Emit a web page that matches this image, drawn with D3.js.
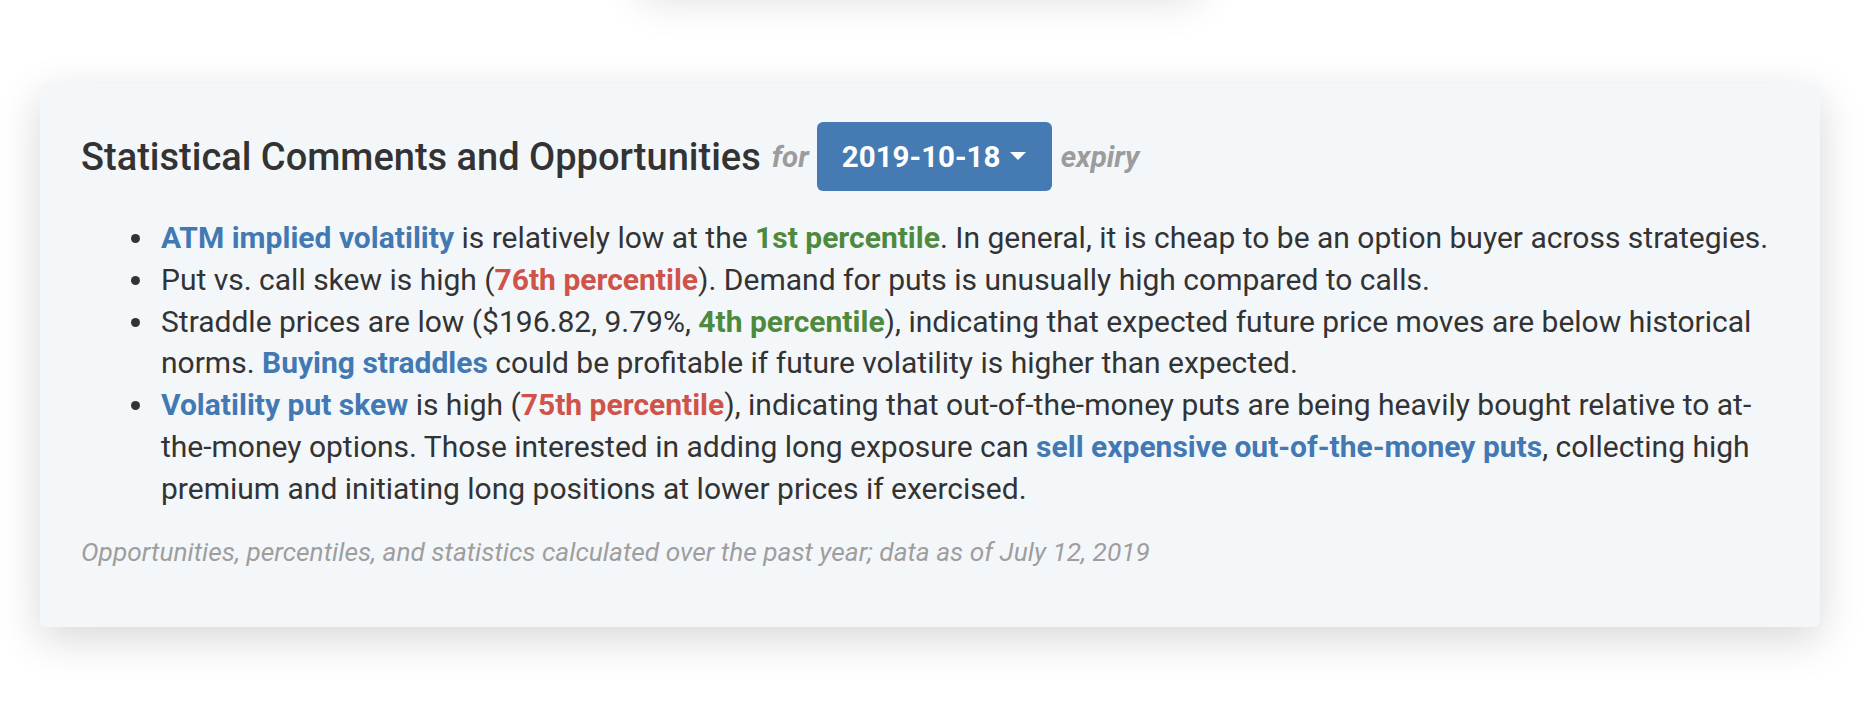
<!DOCTYPE html>
<html>
<head>
<meta charset="utf-8">
<script src="https://cdn.jsdelivr.net/npm/d3@7"></script>
<style>
  html, body { margin:0; padding:0; background:#ffffff; width:1872px; height:710px; overflow:hidden; font-family: Roboto, "Noto Sans", sans-serif; }
  #ghost { position:absolute; left:640px; top:-300px; width:560px; height:292px; background:#fff; box-shadow:0 8px 40px rgba(0,0,0,0.13); border-radius:6px; }
  #card { position:absolute; left:40px; top:84px; width:1780px; height:543px; background:#f4f7fa; border-radius:6px; box-shadow:0 12px 44px rgba(0,0,0,0.16); }
  .hdr { position:absolute; left:41px; top:38px; height:69px; display:flex; align-items:center; white-space:nowrap; }
  .title { font-size:38px; font-weight:500; color:#333; }
  .sub { font-size:29.5px; font-weight:700; font-style:italic; color:#9c9c9c; }
  .btn { background:#457ab3; color:#fff; border-radius:6px; height:69px; width:235px; display:flex; align-items:center; justify-content:center; font-size:29.5px; font-weight:700; box-sizing:border-box; }
  .caret { display:inline-block; width:0; height:0; border-left:8px solid transparent; border-right:8px solid transparent; border-top:8px solid #fff; margin-left:10px; position:relative; top:-1px; }
  .list { position:absolute; left:41px; top:133px; }
  .line { position:relative; height:41.8px; line-height:41.8px; padding-left:80px; white-space:nowrap; font-size:30px; color:#333; }
  .dot { position:absolute; left:50px; top:17px; width:9px; height:9px; border-radius:50%; background:#333; }
  .b { font-weight:700; }
  .blue { color:#4379b3; } .green { color:#4e8a3e; } .red { color:#d0534a; }
  .foot { position:absolute; left:41px; top:453px; font-size:26.3px; font-style:italic; color:#9e9e9e; white-space:nowrap; line-height:30px; }
</style>
</head>
<body>
<div id="ghost"></div>
<div id="card"></div>
<script>
// Text content as segments: [text, style]
const titleText = "Statistical Comments and Opportunities";
const forText = "for";
const expiryDate = "2019-10-18";
const expiryText = "expiry";
const bullet1 = [[["ATM implied volatility","blue"],[" is relatively low at the ",""],["1st percentile","green"],[". In general, it is cheap to be an option buyer across strategies.",""]]];
const bullet2 = [[["Put vs. call skew is high (",""],["76th percentile","red"],["). Demand for puts is unusually high compared to calls.",""]]];
const bullet3 = [
  [["Straddle prices are low ($196.82, 9.79%, ",""],["4th percentile","green"],["), indicating that expected future price moves are below historical",""]],
  [["norms. ",""],["Buying straddles","blue"],[" could be profitable if future volatility is higher than expected.",""]]
];
const bullet4 = [
  [["Volatility put skew","blue"],[" is high (",""],["75th percentile","red"],["), indicating that out-of-the-money puts are being heavily bought relative to at-",""]],
  [["the-money options. Those interested in adding long exposure can ",""],["sell expensive out-of-the-money puts","blue"],[", collecting high",""]],
  [["premium and initiating long positions at lower prices if exercised.",""]]
];
const bullets = [bullet1, bullet2, bullet3, bullet4];
const footnote = "Opportunities, percentiles, and statistics calculated over the past year; data as of July 12, 2019";

const card = d3.select("#card");
const hdr = card.append("div").attr("class","hdr");
hdr.append("span").attr("class","title").text(titleText);
hdr.append("span").attr("class","sub").style("margin-left","11px").style("margin-right","8px").text(forText);
const btn = hdr.append("div").attr("class","btn");
btn.append("span").text(expiryDate);
btn.append("span").attr("class","caret");
hdr.append("span").attr("class","sub").style("margin-left","9px").text(expiryText);

const list = card.append("div").attr("class","list");
bullets.forEach(b => {
  b.forEach((ln, i) => {
    const row = list.append("div").attr("class","line");
    if (i === 0) row.append("span").attr("class","dot");
    row.selectAll("span.seg").data(ln).enter().append("span")
      .attr("class", d => "seg" + (d[1] ? " b " + d[1] : ""))
      .text(d => d[0]);
  });
});
card.append("div").attr("class","foot").text(footnote);
</script>
</body>
</html>
